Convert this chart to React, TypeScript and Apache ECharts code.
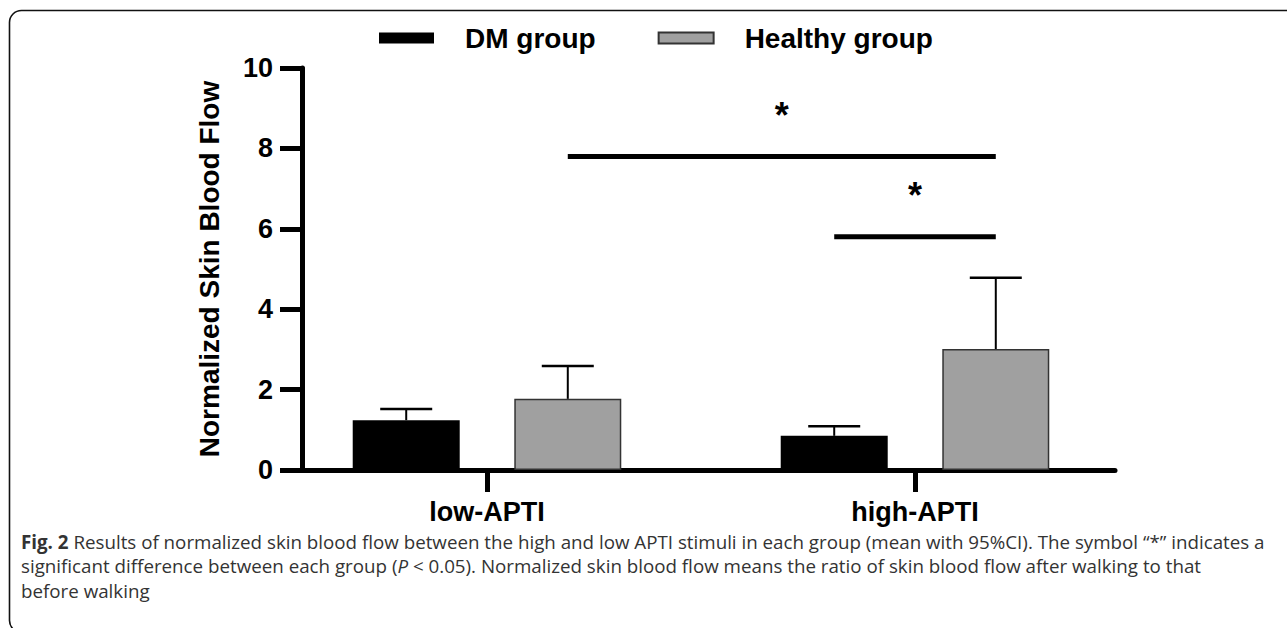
import React, { useEffect, useRef } from "react";
import * as echarts from "echarts";

const categories = ["low-APTI", "high-APTI"];
const groupNames = ["DM group", "Healthy group"];
const dmMean = [1.24, 0.85];
const dmUpper = [1.52, 1.09];
const healthyMean = [1.77, 3.01];
const healthyUpper = [2.59, 4.78];
const yMin = 0;
const yMax = 10;
const yInterval = 2;
// significance brackets: [fromCategory, fromGroup, toCategory, toGroup, yValue]
const sigBrackets = [
  [0, 1, 1, 1, 7.8],
  [1, 0, 1, 1, 5.8],
];
const sigLabels = ["*", "*"];

const captionLine1 =
  "{b|Fig. 2}{n| Results of normalized skin blood flow between the high and low APTI stimuli in each group (mean with 95%CI). The symbol “*” indicates a}";
const captionLine2 =
  "{n|significant difference between each group (}{i|P}{n| < 0.05). Normalized skin blood flow means the ratio of skin blood flow after walking to that}";
const captionLine3 = "{n|before walking}";

const BAR_W = 107;
const BAR_GAP = 0.51;
const GROUP_OFFSET = (BAR_W * (1 + BAR_GAP)) / 2;
const groupOffsets = [-GROUP_OFFSET, GROUP_OFFSET];
const FONT = "'Liberation Sans', Arial, Helvetica, sans-serif";
const CAP_FONT = "'Open Sans', Lato, sans-serif";
const CAP_SIZE = 18.75;
const CAP_LH = 24.5;
const CAP_COLOR = "#333";

export default function App() {
  const ref = useRef<HTMLDivElement>(null);
  useEffect(() => {
    if (!ref.current) return;
    const chart = echarts.init(ref.current, undefined, { renderer: "svg" });

    const errorSeries = (mean: number[], upper: number[], g: number) => ({
      type: "custom",
      xAxisIndex: 1,
      yAxisIndex: 1,
      z: 5,
      silent: true,
      data: mean.map((m, i) => [i, m, upper[i]]),
      renderItem: (params: any, api: any) => {
        const top = api.coord([api.value(0), api.value(2)]);
        const base = api.coord([api.value(0), api.value(1)]);
        const x = top[0] + groupOffsets[g];
        return {
          type: "group",
          children: [
            {
              type: "line",
              shape: { x1: x, y1: base[1], x2: x, y2: top[1] },
              style: { stroke: "#000", lineWidth: 2 },
            },
            {
              type: "line",
              shape: { x1: x - 26, y1: top[1], x2: x + 26, y2: top[1] },
              style: { stroke: "#000", lineWidth: 2.5 },
            },
          ],
        };
      },
    });

    const capStyle = { fontFamily: CAP_FONT, fontSize: CAP_SIZE, lineHeight: CAP_LH, fill: CAP_COLOR };

    const option: any = {
      animation: false,
      backgroundColor: "#fff",
      legend: {
        left: 379,
        top: 24,
        padding: 0,
        itemWidth: 55,
        itemHeight: 11,
        itemGap: 62,
        icon: "rect",
        textStyle: {
          fontFamily: FONT,
          fontSize: 28,
          fontWeight: "bold",
          color: "#000",
          padding: [0, 0, 0, 26],
        },
        data: groupNames,
      },
      grid: [
        { left: 302, right: 172, top: 68, bottom: 158 },
        { left: 273, right: 158, top: 68, bottom: 158 },
      ],
      xAxis: [
        {
          gridIndex: 0,
          type: "value",
          min: 0,
          max: 1,
          axisLine: { show: true, lineStyle: { color: "#000", width: 5 } },
          axisTick: { show: false },
          axisLabel: { show: false },
          splitLine: { show: false },
        },
        {
          gridIndex: 1,
          type: "category",
          data: categories,
          axisLine: { show: false },
          axisTick: {
            show: true,
            alignWithLabel: true,
            length: 22,
            lineStyle: { color: "#000", width: 5 },
          },
          axisLabel: {
            fontFamily: FONT,
            fontSize: 27,
            fontWeight: "bold",
            color: "#000",
            margin: 28,
          },
          splitLine: { show: false },
        },
      ],
      yAxis: [
        {
          gridIndex: 0,
          type: "value",
          min: yMin,
          max: yMax,
          interval: yInterval,
          axisLine: { show: true, lineStyle: { color: "#000", width: 5 } },
          axisTick: { show: true, length: 22, lineStyle: { color: "#000", width: 5 } },
          axisLabel: {
            fontFamily: FONT,
            fontSize: 27,
            fontWeight: "bold",
            color: "#000",
            margin: 29,
          },
          splitLine: { show: false },
          name: "Normalized Skin Blood Flow",
          nameLocation: "middle",
          nameGap: 79,
          nameTextStyle: {
            fontFamily: FONT,
            fontSize: 28,
            fontWeight: "bold",
            color: "#000",
          },
        },
        {
          gridIndex: 1,
          type: "value",
          min: yMin,
          max: yMax,
          interval: yInterval,
          show: false,
          splitLine: { show: false },
        },
      ],
      series: [
        {
          name: groupNames[0],
          type: "bar",
          xAxisIndex: 1,
          yAxisIndex: 1,
          data: dmMean,
          barWidth: BAR_W,
          barGap: `${BAR_GAP * 100}%`,
          itemStyle: { color: "#000" },
          z: 3,
        },
        {
          name: groupNames[1],
          type: "bar",
          xAxisIndex: 1,
          yAxisIndex: 1,
          data: healthyMean,
          barWidth: BAR_W,
          barGap: `${BAR_GAP * 100}%`,
          itemStyle: { color: "#a0a0a0", borderColor: "#333", borderWidth: 1.5 },
          z: 3,
        },
        errorSeries(dmMean, dmUpper, 0),
        errorSeries(healthyMean, healthyUpper, 1),
        {
          type: "custom",
          xAxisIndex: 1,
          yAxisIndex: 1,
          silent: true,
          z: 6,
          data: sigBrackets.map((b, i) => [...b, i]),
          renderItem: (params: any, api: any) => {
            const p1 = api.coord([api.value(0), api.value(4)]);
            const p2 = api.coord([api.value(2), api.value(4)]);
            const x1 = p1[0] + groupOffsets[api.value(1)];
            const x2 = p2[0] + groupOffsets[api.value(3)];
            const y = p1[1];
            return {
              type: "group",
              children: [
                {
                  type: "line",
                  shape: { x1, y1: y, x2, y2: y },
                  style: { stroke: "#000", lineWidth: 5 },
                },
                {
                  type: "text",
                  x: (x1 + x2) / 2,
                  y: y - 41,
                  style: {
                    text: sigLabels[api.value(5)],
                    fontFamily: FONT,
                    fontSize: 36,
                    fontWeight: "bold",
                    fill: "#000",
                    align: "center",
                    verticalAlign: "middle",
                  },
                },
              ],
            };
          },
        },
      ],
      graphic: [
        {
          type: "rect",
          silent: true,
          z: -1,
          shape: { x: 9.5, y: 10.5, width: 1300, height: 622, r: 12 },
          style: { fill: "none", stroke: "#111", lineWidth: 1.6 },
        },
        {
          type: "text",
          left: 21,
          top: 529,
          silent: true,
          style: {
            text: [captionLine1, captionLine2, captionLine3].join("\n"),
            ...capStyle,
            rich: {
              n: { ...capStyle },
              b: { ...capStyle, fontWeight: "bold" },
              i: { ...capStyle, fontStyle: "italic" },
            },
          },
        },
      ],
    };
    chart.setOption(option);
    return () => chart.dispose();
  }, []);
  return (
    <div
      ref={ref}
      style={{ position: "fixed", left: 0, top: 0, width: 1287, height: 628, background: "#fff" }}
    />
  );
}
